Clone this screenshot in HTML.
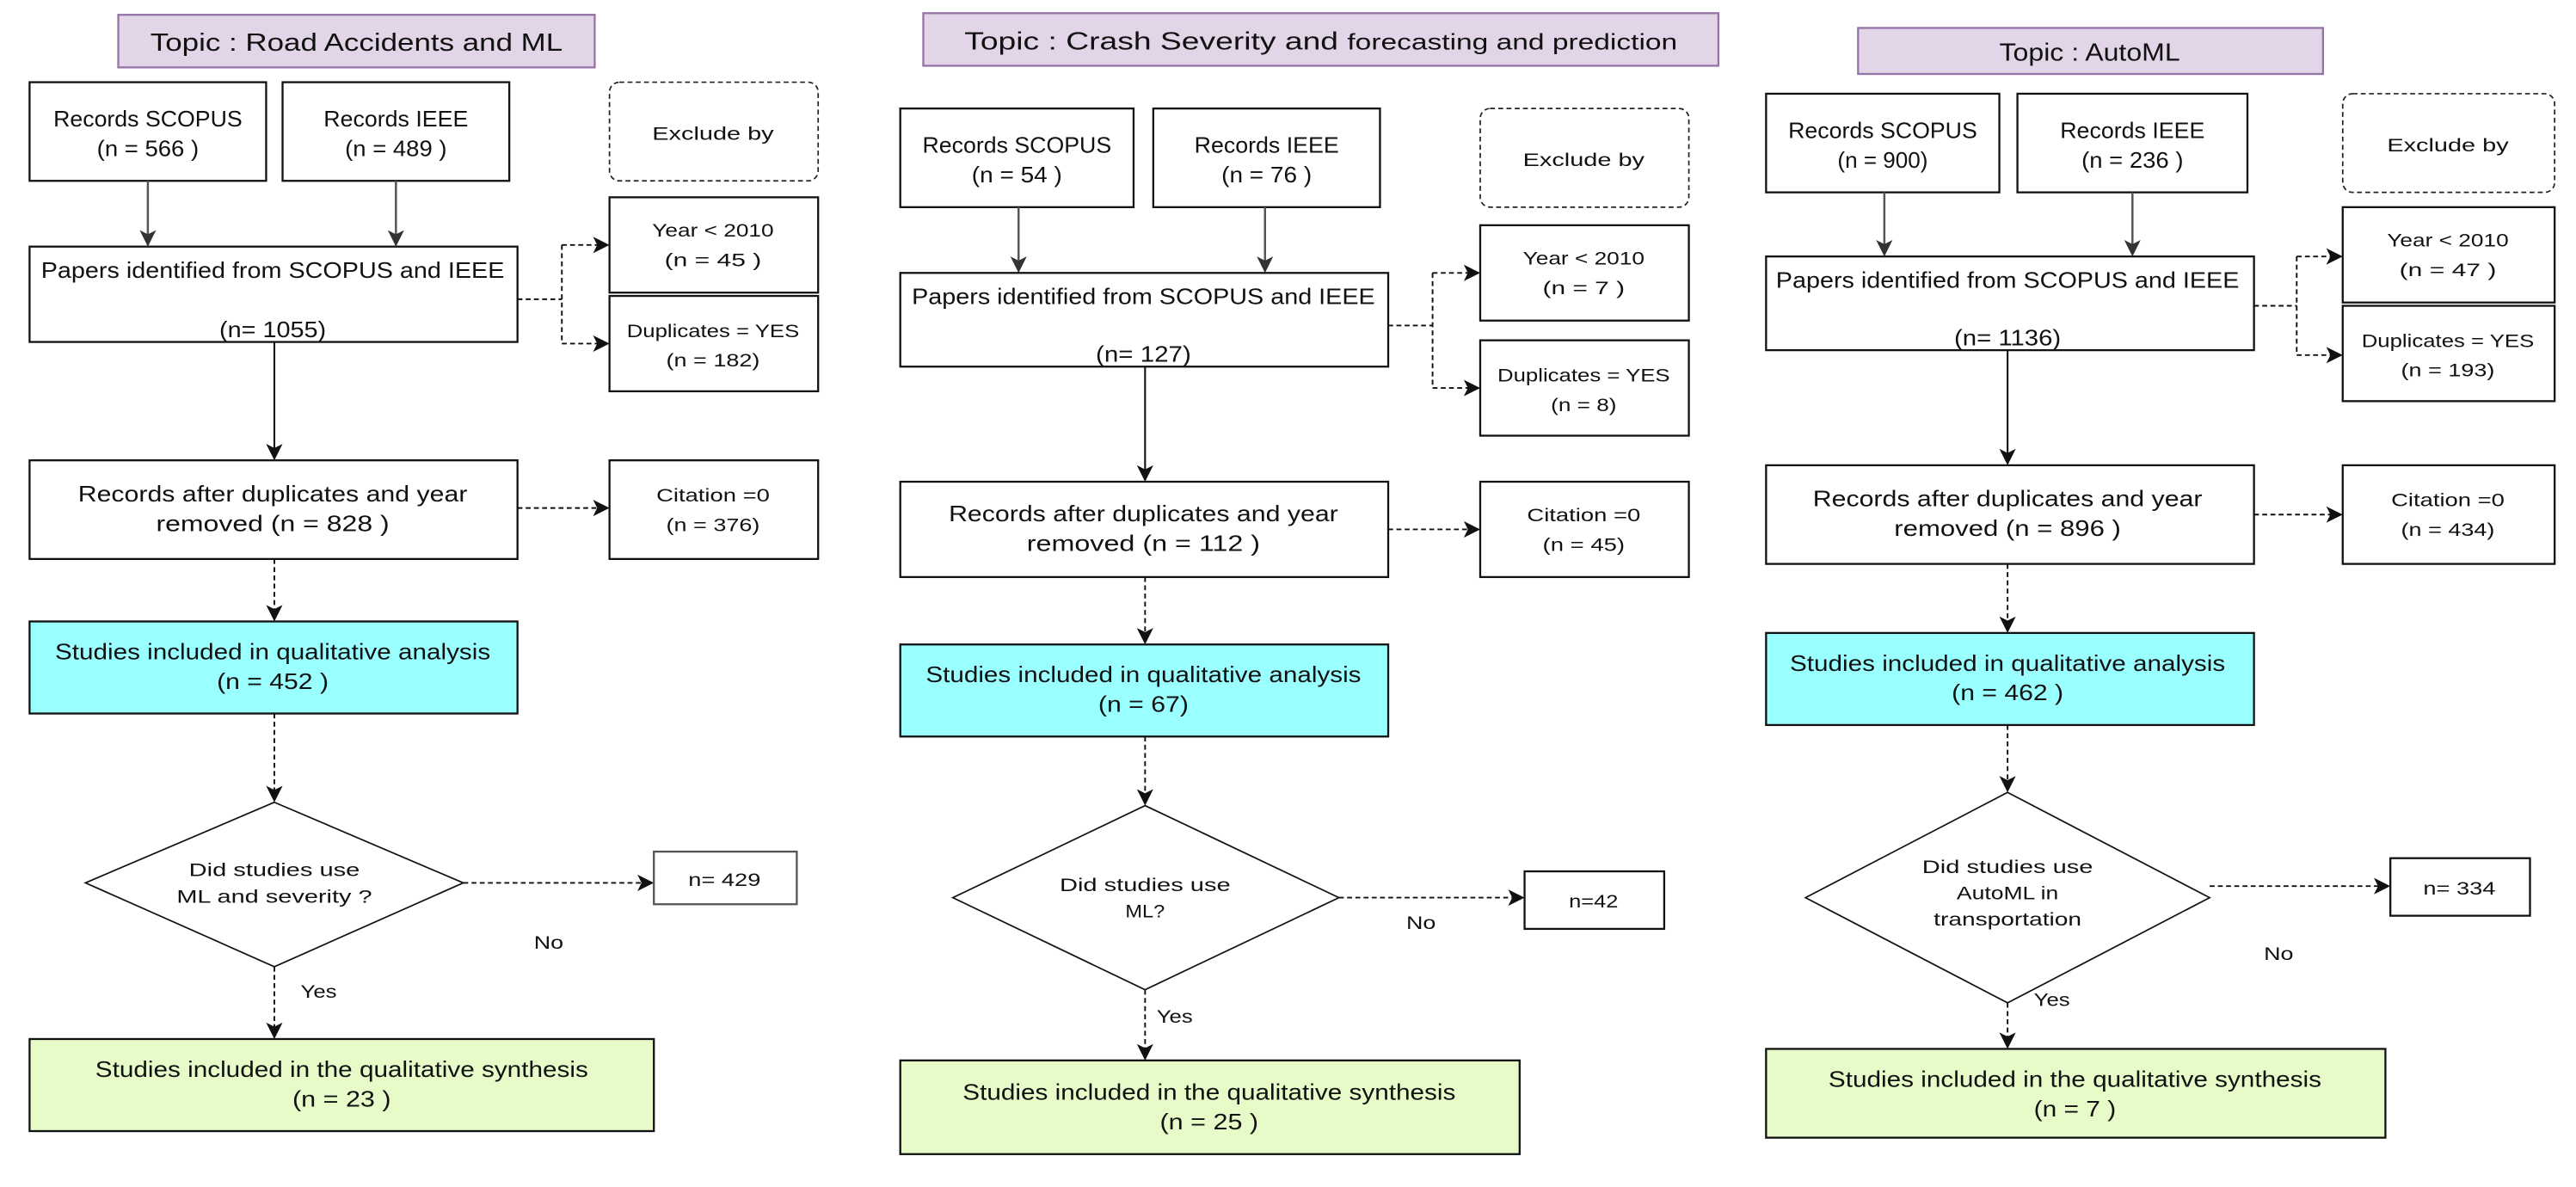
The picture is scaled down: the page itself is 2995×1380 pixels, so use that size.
<!DOCTYPE html>
<html><head><meta charset="utf-8"><style>
html,body{margin:0;padding:0;background:#fff;width:2995px;height:1380px;overflow:hidden}
svg{display:block}
text{font-family:"Liberation Sans Narrow","Liberation Sans",sans-serif;fill:#111;text-anchor:middle}
.t{font-size:13.5px}
.s{font-size:11px}
.h{font-size:15px}
.b{fill:#fff;stroke:#111;stroke-width:1.2}
.d{fill:#fff;stroke:#222;stroke-width:0.9;stroke-dasharray:3 2}
.ti{fill:#e1d5e7;stroke:#9673a6;stroke-width:1.2}
.cy{fill:#99ffff;stroke:#111;stroke-width:1.2}
.gr{fill:#e6fbc8;stroke:#111;stroke-width:1.2}
.g{stroke:#555;stroke-width:1.3;fill:none}
.k{stroke:#111;stroke-width:1.1;fill:none}
.kd{stroke:#111;stroke-width:1;fill:none;stroke-dasharray:3 2}
</style></head><body>
<svg width="2995" height="1380" viewBox="0 0 1568 722" preserveAspectRatio="none" xmlns="http://www.w3.org/2000/svg">
<defs>
<marker id="a" markerWidth="10" markerHeight="10" refX="9" refY="5" orient="auto" markerUnits="userSpaceOnUse"><path d="M0,0 L10,5 L0,10 L2.5,5 z" fill="#111"/></marker>
<marker id="ag" markerWidth="10" markerHeight="10" refX="9" refY="5" orient="auto" markerUnits="userSpaceOnUse"><path d="M0,0 L10,5 L0,10 L2.5,5 z" fill="#333"/></marker>
</defs>

<!-- Panel 1 -->
<rect class="ti" x="72" y="9" width="290" height="32"/>
<text class="h" x="217" y="31" textLength="251" lengthAdjust="spacingAndGlyphs">Topic : Road Accidents and ML</text>
<rect class="b" x="18" y="50" width="144" height="60"/>
<text class="t" x="90" y="77" textLength="115" lengthAdjust="spacingAndGlyphs">Records SCOPUS</text><text class="t" x="90" y="95" textLength="62" lengthAdjust="spacingAndGlyphs">(n =  566 )</text>
<rect class="b" x="172" y="50" width="138" height="60"/>
<text class="t" x="241" y="77" textLength="88" lengthAdjust="spacingAndGlyphs">Records IEEE</text><text class="t" x="241" y="95" textLength="62" lengthAdjust="spacingAndGlyphs">(n =  489 )</text>
<rect class="d" x="371" y="50" width="127" height="60" rx="6"/>
<text class="s" x="434" y="85" textLength="74" lengthAdjust="spacingAndGlyphs">Exclude by</text>
<line class="g" x1="90" y1="110" x2="90" y2="149" marker-end="url(#ag)"/>
<line class="g" x1="241" y1="110" x2="241" y2="149" marker-end="url(#ag)"/>
<rect class="b" x="18" y="150" width="297" height="58"/>
<text class="t" x="166" y="169" textLength="282" lengthAdjust="spacingAndGlyphs">Papers identified from SCOPUS and IEEE</text><text class="t" x="166" y="205" textLength="65" lengthAdjust="spacingAndGlyphs">(n= 1055)</text>
<rect class="b" x="371" y="120" width="127" height="58"/>
<text class="s" x="434" y="144" textLength="74" lengthAdjust="spacingAndGlyphs">Year &lt; 2010</text><text class="s" x="434" y="162" textLength="59" lengthAdjust="spacingAndGlyphs">(n = 45   )</text>
<rect class="b" x="371" y="180" width="127" height="58"/>
<text class="s" x="434" y="205" textLength="105" lengthAdjust="spacingAndGlyphs">Duplicates = YES</text><text class="s" x="434" y="223" textLength="57" lengthAdjust="spacingAndGlyphs">(n = 182)</text>
<polyline class="kd" points="315,182 342,182"/>
<polyline class="kd" points="342,149 342,209"/>
<line class="kd" x1="342" y1="149" x2="370" y2="149" marker-end="url(#a)"/>
<line class="kd" x1="342" y1="209" x2="370" y2="209" marker-end="url(#a)"/>
<line class="k" x1="167" y1="208" x2="167" y2="279" marker-end="url(#a)"/>
<rect class="b" x="18" y="280" width="297" height="60"/>
<text class="t" x="166" y="305" textLength="237" lengthAdjust="spacingAndGlyphs">Records  after duplicates and year</text><text class="t" x="166" y="323" textLength="142" lengthAdjust="spacingAndGlyphs">removed  (n = 828   )</text>
<rect class="b" x="371" y="280" width="127" height="60"/>
<text class="s" x="434" y="305" textLength="69" lengthAdjust="spacingAndGlyphs">Citation =0</text><text class="s" x="434" y="323" textLength="57" lengthAdjust="spacingAndGlyphs">(n = 376)</text>
<line class="kd" x1="315" y1="309" x2="370" y2="309" marker-end="url(#a)"/>
<line class="kd" x1="167" y1="340" x2="167" y2="377" marker-end="url(#a)"/>
<rect class="cy" x="18" y="378" width="297" height="56"/>
<text class="t" x="166" y="401" textLength="265" lengthAdjust="spacingAndGlyphs">Studies included in qualitative analysis</text><text class="t" x="166" y="419" textLength="68" lengthAdjust="spacingAndGlyphs">(n =  452 )</text>
<line class="kd" x1="167" y1="434" x2="167" y2="487" marker-end="url(#a)"/>
<polygon class="b" points="167,488 282,537 167,588 52,537" style="stroke-width:0.9"/>
<text class="s" x="167" y="533" textLength="104" lengthAdjust="spacingAndGlyphs">Did studies use</text><text class="s" x="167" y="549" textLength="119" lengthAdjust="spacingAndGlyphs">ML and severity ?</text>
<line class="kd" x1="282" y1="537" x2="397" y2="537" marker-end="url(#a)"/>
<text class="s" x="334" y="577" textLength="18" lengthAdjust="spacingAndGlyphs">No</text>
<rect class="b" x="398" y="518" width="87" height="32" style="stroke:#555"/>
<text class="s" x="441" y="539" textLength="44" lengthAdjust="spacingAndGlyphs">n= 429</text>
<line class="kd" x1="167" y1="588" x2="167" y2="631" marker-end="url(#a)"/>
<text class="s" x="194" y="607" textLength="22" lengthAdjust="spacingAndGlyphs">Yes</text>
<rect class="gr" x="18" y="632" width="380" height="56"/>
<text class="t" x="208" y="655" textLength="300" lengthAdjust="spacingAndGlyphs">Studies included in the qualitative synthesis</text><text class="t" x="208" y="673" textLength="60" lengthAdjust="spacingAndGlyphs">(n =  23 )</text>

<!-- Panel 2 -->
<rect class="ti" x="562" y="8" width="484" height="32"/>
<text x="804" y="30" textLength="434" lengthAdjust="spacingAndGlyphs"><tspan class="h">Topic : Crash Severity and </tspan><tspan class="t">forecasting and prediction</tspan></text>
<rect class="b" x="548" y="66" width="142" height="60"/>
<text class="t" x="619" y="93" textLength="115" lengthAdjust="spacingAndGlyphs">Records SCOPUS</text><text class="t" x="619" y="111" textLength="55" lengthAdjust="spacingAndGlyphs">(n =  54 )</text>
<rect class="b" x="702" y="66" width="138" height="60"/>
<text class="t" x="771" y="93" textLength="88" lengthAdjust="spacingAndGlyphs">Records IEEE</text><text class="t" x="771" y="111" textLength="55" lengthAdjust="spacingAndGlyphs">(n =  76 )</text>
<rect class="d" x="901" y="66" width="127" height="60" rx="6"/>
<text class="s" x="964" y="101" textLength="74" lengthAdjust="spacingAndGlyphs">Exclude by</text>
<line class="g" x1="620" y1="126" x2="620" y2="165" marker-end="url(#ag)"/>
<line class="g" x1="770" y1="126" x2="770" y2="165" marker-end="url(#ag)"/>
<rect class="b" x="548" y="166" width="297" height="57"/>
<text class="t" x="696" y="185" textLength="282" lengthAdjust="spacingAndGlyphs">Papers identified from SCOPUS and IEEE</text><text class="t" x="696" y="220" textLength="58" lengthAdjust="spacingAndGlyphs">(n= 127)</text>
<rect class="b" x="901" y="137" width="127" height="58"/>
<text class="s" x="964" y="161" textLength="74" lengthAdjust="spacingAndGlyphs">Year &lt; 2010</text><text class="s" x="964" y="179" textLength="50" lengthAdjust="spacingAndGlyphs">(n = 7   )</text>
<rect class="b" x="901" y="207" width="127" height="58"/>
<text class="s" x="964" y="232" textLength="105" lengthAdjust="spacingAndGlyphs">Duplicates = YES</text><text class="s" x="964" y="250" textLength="40" lengthAdjust="spacingAndGlyphs">(n = 8)</text>
<polyline class="kd" points="845,198 872,198"/>
<polyline class="kd" points="872,166 872,236"/>
<line class="kd" x1="872" y1="166" x2="900" y2="166" marker-end="url(#a)"/>
<line class="kd" x1="872" y1="236" x2="900" y2="236" marker-end="url(#a)"/>
<line class="k" x1="697" y1="223" x2="697" y2="292" marker-end="url(#a)"/>
<rect class="b" x="548" y="293" width="297" height="58"/>
<text class="t" x="696" y="317" textLength="237" lengthAdjust="spacingAndGlyphs">Records  after duplicates and year</text><text class="t" x="696" y="335" textLength="142" lengthAdjust="spacingAndGlyphs">removed  (n = 112   )</text>
<rect class="b" x="901" y="293" width="127" height="58"/>
<text class="s" x="964" y="317" textLength="69" lengthAdjust="spacingAndGlyphs">Citation =0</text><text class="s" x="964" y="335" textLength="50" lengthAdjust="spacingAndGlyphs">(n = 45)</text>
<line class="kd" x1="845" y1="322" x2="900" y2="322" marker-end="url(#a)"/>
<line class="kd" x1="697" y1="351" x2="697" y2="391" marker-end="url(#a)"/>
<rect class="cy" x="548" y="392" width="297" height="56"/>
<text class="t" x="696" y="415" textLength="265" lengthAdjust="spacingAndGlyphs">Studies included in qualitative analysis</text><text class="t" x="696" y="433" textLength="55" lengthAdjust="spacingAndGlyphs">(n =  67)</text>
<line class="kd" x1="697" y1="448" x2="697" y2="489" marker-end="url(#a)"/>
<polygon class="b" points="697,490 815,546 697,602 580,546" style="stroke-width:0.9"/>
<text class="s" x="697" y="542" textLength="104" lengthAdjust="spacingAndGlyphs">Did studies use</text><text class="s" x="697" y="558" textLength="24" lengthAdjust="spacingAndGlyphs">ML?</text>
<line class="kd" x1="815" y1="546" x2="927" y2="546" marker-end="url(#a)"/>
<text class="s" x="865" y="565" textLength="18" lengthAdjust="spacingAndGlyphs">No</text>
<rect class="b" x="928" y="530" width="85" height="35"/>
<text class="s" x="970" y="552" textLength="30" lengthAdjust="spacingAndGlyphs">n=42</text>
<line class="kd" x1="697" y1="602" x2="697" y2="644" marker-end="url(#a)"/>
<text class="s" x="715" y="622" textLength="22" lengthAdjust="spacingAndGlyphs">Yes</text>
<rect class="gr" x="548" y="645" width="377" height="57"/>
<text class="t" x="736" y="669" textLength="300" lengthAdjust="spacingAndGlyphs">Studies included in the qualitative synthesis</text><text class="t" x="736" y="687" textLength="60" lengthAdjust="spacingAndGlyphs">(n =  25 )</text>

<!-- Panel 3 -->
<rect class="ti" x="1131" y="17" width="283" height="28"/>
<text class="h" x="1272" y="37" textLength="110" lengthAdjust="spacingAndGlyphs">Topic : AutoML</text>
<rect class="b" x="1075" y="57" width="142" height="60"/>
<text class="t" x="1146" y="84" textLength="115" lengthAdjust="spacingAndGlyphs">Records SCOPUS</text><text class="t" x="1146" y="102" textLength="55" lengthAdjust="spacingAndGlyphs">(n =  900)</text>
<rect class="b" x="1228" y="57" width="140" height="60"/>
<text class="t" x="1298" y="84" textLength="88" lengthAdjust="spacingAndGlyphs">Records IEEE</text><text class="t" x="1298" y="102" textLength="62" lengthAdjust="spacingAndGlyphs">(n =  236 )</text>
<rect class="d" x="1426" y="57" width="129" height="60" rx="6"/>
<text class="s" x="1490" y="92" textLength="74" lengthAdjust="spacingAndGlyphs">Exclude by</text>
<line class="g" x1="1147" y1="117" x2="1147" y2="155" marker-end="url(#ag)"/>
<line class="g" x1="1298" y1="117" x2="1298" y2="155" marker-end="url(#ag)"/>
<rect class="b" x="1075" y="156" width="297" height="57"/>
<text class="t" x="1222" y="175" textLength="282" lengthAdjust="spacingAndGlyphs">Papers identified from SCOPUS and IEEE</text><text class="t" x="1222" y="210" textLength="65" lengthAdjust="spacingAndGlyphs">(n= 1136)</text>
<rect class="b" x="1426" y="126" width="129" height="58"/>
<text class="s" x="1490" y="150" textLength="74" lengthAdjust="spacingAndGlyphs">Year &lt; 2010</text><text class="s" x="1490" y="168" textLength="59" lengthAdjust="spacingAndGlyphs">(n = 47   )</text>
<rect class="b" x="1426" y="186" width="129" height="58"/>
<text class="s" x="1490" y="211" textLength="105" lengthAdjust="spacingAndGlyphs">Duplicates = YES</text><text class="s" x="1490" y="229" textLength="57" lengthAdjust="spacingAndGlyphs">(n = 193)</text>
<polyline class="kd" points="1372,186 1398,186"/>
<polyline class="kd" points="1398,156 1398,216"/>
<line class="kd" x1="1398" y1="156" x2="1425" y2="156" marker-end="url(#a)"/>
<line class="kd" x1="1398" y1="216" x2="1425" y2="216" marker-end="url(#a)"/>
<line class="k" x1="1222" y1="213" x2="1222" y2="282" marker-end="url(#a)"/>
<rect class="b" x="1075" y="283" width="297" height="60"/>
<text class="t" x="1222" y="308" textLength="237" lengthAdjust="spacingAndGlyphs">Records  after duplicates and year</text><text class="t" x="1222" y="326" textLength="138" lengthAdjust="spacingAndGlyphs">removed  (n = 896  )</text>
<rect class="b" x="1426" y="283" width="129" height="60"/>
<text class="s" x="1490" y="308" textLength="69" lengthAdjust="spacingAndGlyphs">Citation =0</text><text class="s" x="1490" y="326" textLength="57" lengthAdjust="spacingAndGlyphs">(n = 434)</text>
<line class="kd" x1="1372" y1="313" x2="1425" y2="313" marker-end="url(#a)"/>
<line class="kd" x1="1222" y1="343" x2="1222" y2="384" marker-end="url(#a)"/>
<rect class="cy" x="1075" y="385" width="297" height="56"/>
<text class="t" x="1222" y="408" textLength="265" lengthAdjust="spacingAndGlyphs">Studies included in qualitative analysis</text><text class="t" x="1222" y="426" textLength="68" lengthAdjust="spacingAndGlyphs">(n =  462 )</text>
<line class="kd" x1="1222" y1="441" x2="1222" y2="481" marker-end="url(#a)"/>
<polygon class="b" points="1222,482 1345,546 1222,610 1099,546" style="stroke-width:0.9"/>
<text class="s" x="1222" y="531" textLength="104" lengthAdjust="spacingAndGlyphs">Did studies use</text><text class="s" x="1222" y="547" textLength="62" lengthAdjust="spacingAndGlyphs">AutoML in</text><text class="s" x="1222" y="563" textLength="90" lengthAdjust="spacingAndGlyphs">transportation</text>
<line class="kd" x1="1345" y1="539" x2="1454" y2="539" marker-end="url(#a)"/>
<text class="s" x="1387" y="584" textLength="18" lengthAdjust="spacingAndGlyphs">No</text>
<rect class="b" x="1455" y="522" width="85" height="35"/>
<text class="s" x="1497" y="544" textLength="44" lengthAdjust="spacingAndGlyphs">n= 334</text>
<line class="kd" x1="1222" y1="610" x2="1222" y2="637" marker-end="url(#a)"/>
<text class="s" x="1249" y="612" textLength="22" lengthAdjust="spacingAndGlyphs">Yes</text>
<rect class="gr" x="1075" y="638" width="377" height="54"/>
<text class="t" x="1263" y="661" textLength="300" lengthAdjust="spacingAndGlyphs">Studies included in the qualitative synthesis</text><text class="t" x="1263" y="679" textLength="50" lengthAdjust="spacingAndGlyphs">(n =  7 )</text>
</svg>
</body></html>
